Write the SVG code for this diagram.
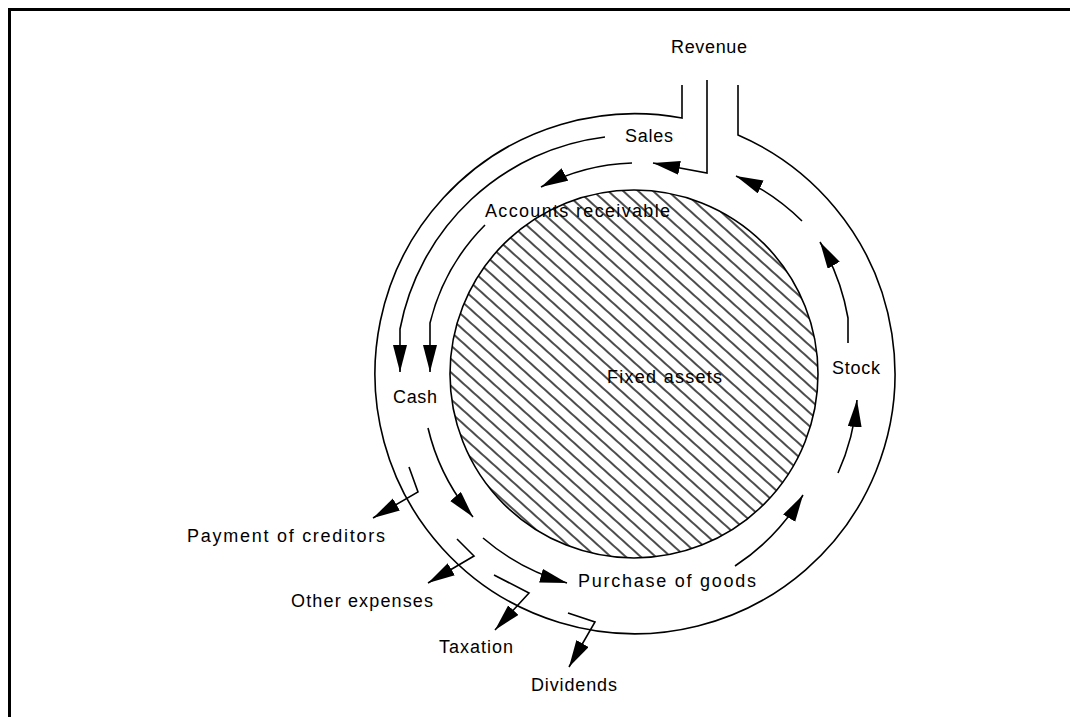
<svg xmlns="http://www.w3.org/2000/svg" width="1070" height="717" viewBox="0 0 1070 717">
  <style>
    .ln { fill: none; stroke: #000; stroke-width: 1.6; stroke-linejoin: miter; }
    .fl { fill: none; stroke: #000; stroke-width: 1.6; marker-end: url(#ah); }
    .lbl { font-family: "Liberation Sans", "DejaVu Sans", sans-serif; font-size: 18px; fill: #000; }
  </style>
  <defs>
    <marker id="ah" markerWidth="28" markerHeight="16" refX="27" refY="7" orient="auto" markerUnits="userSpaceOnUse">
      <path d="M0,0 L27,7 L0,14 z" fill="#000"/>
    </marker>
    <pattern id="hatch" patternUnits="userSpaceOnUse" width="10" height="10" patternTransform="rotate(42)">
      <line x1="-1" y1="5" x2="11" y2="5" stroke="#000" stroke-width="1.4"/>
    </pattern>
  </defs>

  <rect width="1070" height="717" fill="#fff"/>

  <!-- frame -->
  <path d="M9.5,717 L9.5,9.5 L1070,9.5" fill="none" stroke="#000" stroke-width="3"/>

  <!-- circulating ring with the revenue inlet at the top -->
  <g id="ring">
    <path class="ln" d="M682,85 L682,118 A260,260 0 1,0 738,135 L738,85"/>
  </g>

  <!-- fixed assets core -->
  <g id="fixed-assets">
    <circle cx="634" cy="374" r="184" fill="url(#hatch)" stroke="#000" stroke-width="1.6"/>
    <text class="lbl" x="607" y="383" textLength="115" lengthAdjust="spacing">Fixed assets</text>
  </g>

  <g id="revenue"><text class="lbl" x="671" y="53" textLength="76" lengthAdjust="spacing">Revenue</text></g>
  <g id="sales"><text class="lbl" x="625" y="142" textLength="48" lengthAdjust="spacing">Sales</text></g>
  <g id="accounts-receivable"><text class="lbl" x="485" y="217" textLength="185" lengthAdjust="spacing">Accounts receivable</text></g>
  <g id="cash"><text class="lbl" x="393" y="403" textLength="44" lengthAdjust="spacing">Cash</text></g>
  <g id="stock"><text class="lbl" x="832" y="374" textLength="48" lengthAdjust="spacing">Stock</text></g>
  <g id="purchase-of-goods"><text class="lbl" x="578" y="587" textLength="178" lengthAdjust="spacing">Purchase of goods</text></g>
  <g id="payment-of-creditors"><text class="lbl" x="187" y="542" textLength="198" lengthAdjust="spacing">Payment of creditors</text></g>
  <g id="other-expenses"><text class="lbl" x="291" y="607" textLength="142" lengthAdjust="spacing">Other expenses</text></g>
  <g id="taxation"><text class="lbl" x="439" y="653" textLength="74" lengthAdjust="spacing">Taxation</text></g>
  <g id="dividends"><text class="lbl" x="531" y="691" textLength="86" lengthAdjust="spacing">Dividends</text></g>

  <!-- flows -->
  <g id="connectors">
    <!-- revenue into sales -->
    <path class="fl" d="M707,80 L707,173 L653,163"/>
    <!-- sales straight to cash -->
    <path class="fl" d="M605,137 A238,238 0 0,0 400,329 L400,372"/>
    <!-- sales to accounts receivable -->
    <path class="fl" d="M632,163 A209,209 0 0,0 541,187"/>
    <!-- accounts receivable to cash -->
    <path class="fl" d="M485,225 A210,210 0 0,0 430,323 L430,372"/>
    <!-- cash onwards -->
    <path class="fl" d="M428,428 A214,214 0 0,0 473,517"/>
    <!-- to purchase of goods -->
    <path class="fl" d="M483,538 A222,222 0 0,0 567,583"/>
    <!-- purchases towards stock -->
    <path class="fl" d="M735,566 A220,220 0 0,0 803,495"/>
    <path class="fl" d="M838,473 A225,225 0 0,0 857,400"/>
    <!-- stock towards sales -->
    <path class="fl" d="M848,343 L848,318 A225,225 0 0,0 820,242"/>
    <path class="fl" d="M802,221 A224,224 0 0,0 736,176"/>
    <!-- outflows -->
    <path class="fl" d="M409,467 L418,492 L373,518"/>
    <path class="fl" d="M457,539 L474,556 L428,583"/>
    <path class="fl" d="M494,575 L529,593 L495,630"/>
    <path class="fl" d="M568,613 L595,622 L569,667"/>
  </g>
</svg>
